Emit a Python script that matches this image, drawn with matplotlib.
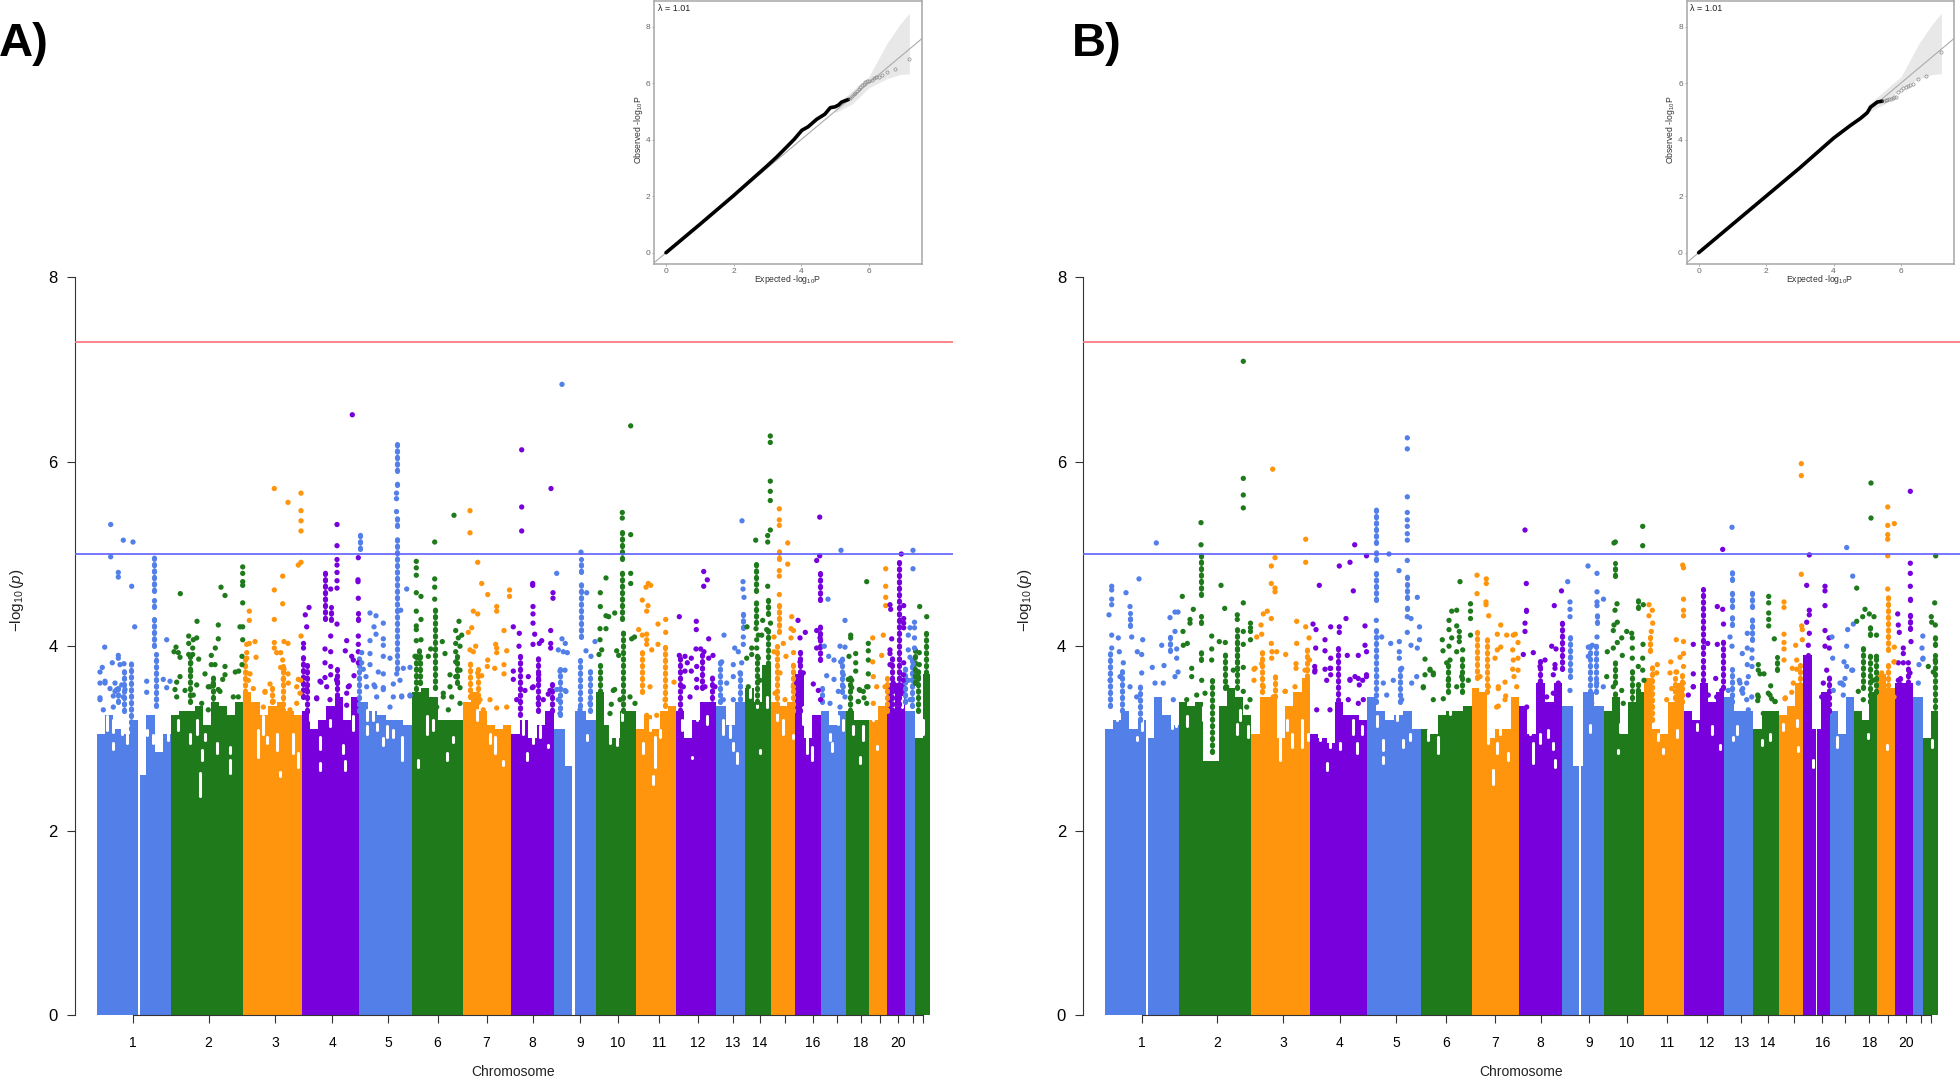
import numpy as np
import matplotlib
matplotlib.use('Agg')
import matplotlib.pyplot as plt

plt.rcParams['font.family'] = ['Liberation Sans', 'DejaVu Sans']
plt.rcParams['mathtext.fontset'] = 'custom'
plt.rcParams['mathtext.rm'] = 'Liberation Sans'
plt.rcParams['mathtext.it'] = 'Liberation Sans:italic'

chrom_colors = ['#527FE8', '#1F7A1C', '#FF940D', '#7700DC']
tick_labels = ['1', '2', '3', '4', '5', '6', '7', '8', '9', '10', '11', '12', '13', '14', '', '16', '', '18', '', '20', '', '']

# panel A: genome position along x (plot units), -log10(p) along y
a_edges = [97, 171, 243, 302, 359, 412, 463, 511, 554, 596, 636, 676, 716, 745, 771, 795, 821, 846, 869, 887, 905, 915, 930]
a_ticks = [132.7, 208.5, 275, 332, 388, 437.5, 486.6, 532.5, 580, 618, 658.8, 698, 733, 759.6, 785, 813, 836.7, 861, 880, 898, 912.6, 923]
a_gaps = [(138.2, 140.4), (571.5, 574.5)]

# height of the solid mass of points, left to right inside each chromosome
a_tops = [
    [3.05, 3.25, 3.1, 3.05, 3.2, 2.6, 3.25, 2.85, 3.05],
    [3.25, 3.3, 3.3, 3.35, 3.15, 3.4, 3.35, 3.25, 3.4],
    [3.5, 3.4, 3.25, 3.35, 3.4, 3.3, 3.25],
    [3.3, 3.1, 3.2, 3.35, 3.45, 3.2, 3.45],
    [3.4, 3.3, 3.25, 3.2, 3.2, 3.15],
    [3.5, 3.55, 3.45, 3.2, 3.2, 3.2],
    [3.4, 3.5, 3.3, 3.15, 3.1, 3.15],
    [3.05, 3.2, 3.0, 3.15, 3.3],
    [3.1, 2.7, 3.3, 3.2],
    [3.5, 3.15, 3.0, 3.3, 3.3],
    [3.1, 3.25, 3.1, 3.3, 3.35],
    [3.3, 3.0, 3.2, 3.4, 3.4],
    [3.35, 3.15, 3.4],
    [3.55, 3.4, 3.8],
    [3.4, 3.35, 3.4],
    [3.7, 3.0, 3.25],
    [3.3, 3.15, 3.3],
    [3.3, 3.2, 3.2],
    [3.2, 3.35],
    [3.6, 3.6],
    [3.3],
    [3.0, 3.7],
]

# white specks inside the mass: x, lower value, upper value
a_holes = [
    (106.7, 3.09, 3.24), (113.3, 3.07, 3.2), (121.7, 3.05, 3.2), (126.7, 2.95, 3.16), (113.3, 2.89, 2.95), (146.7, 3.04, 3.09), (153.3, 2.95, 3.04),
    (160, 2.87, 3.02), (168.3, 2.98, 3.05), (178.3, 3.09, 3.2), (190, 2.95, 3.05), (196.7, 3.05, 3.2), (205, 2.98, 3.05), (216.7, 2.84, 2.95), (230, 2.84, 2.91),
    (200, 2.37, 2.62), (230, 2.62, 2.77), (201.7, 2.77, 2.87), (258.3, 2.8, 3.09), (263.3, 3.05, 3.24), (276.7, 2.87, 3.05), (266.7, 2.95, 3.02), (293.3, 2.84, 3.05),
    (280, 2.59, 2.64), (298.3, 2.69, 2.84), (320, 2.89, 3.02), (343.3, 2.84, 2.93), (330, 3.13, 3.2), (320, 2.66, 2.73), (310, 3.2, 3.27), (345, 2.66, 2.75),
    (353.3, 3.09, 3.24), (366.7, 3.05, 3.13), (376.7, 3.09, 3.16), (386.7, 3.02, 3.13), (401.7, 2.77, 3.02), (383.3, 2.93, 3.0), (393.3, 3.02, 3.09), (366.7, 3.2, 3.31),
    (373.3, 3.2, 3.31), (418.3, 2.69, 2.77), (426.7, 3.05, 3.24), (433.3, 3.09, 3.2), (446.7, 2.77, 2.84), (453.3, 2.96, 3.02), (480, 3.34, 3.45), (490, 2.95, 3.05),
    (495, 2.84, 3.02), (503.3, 2.71, 2.75), (476.7, 3.2, 3.31), (523.3, 3.05, 3.2), (533.3, 2.95, 3.05), (548.3, 2.91, 2.93), (526.7, 2.77, 2.84), (540, 3.02, 3.13),
    (586.7, 2.98, 3.04), (610, 2.95, 3.2), (616.7, 2.93, 3.05), (606.7, 3.2, 3.34), (621.7, 3.2, 3.31), (655, 2.69, 3.02), (660, 3.02, 3.09), (650, 3.09, 3.2),
    (643.3, 2.84, 2.95), (653.3, 2.51, 2.59), (690, 3.05, 3.16), (681.7, 3.09, 3.2), (706.7, 3.16, 3.24), (691.7, 2.79, 2.8), (696.7, 3.2, 3.27), (723.3, 3.05, 3.2),
    (736.7, 2.73, 2.84), (730, 3.02, 3.13), (733.3, 2.87, 2.95), (756.7, 3.34, 3.45), (766.7, 3.34, 3.45), (760, 2.84, 2.87), (750, 3.45, 3.56), (783.3, 3.05, 3.2),
    (776.7, 3.2, 3.31), (793.3, 3.0, 3.04), (806.7, 2.84, 3.02), (811.7, 2.77, 2.91), (803.3, 3.16, 3.34), (831.7, 2.86, 2.95), (843.3, 3.09, 3.2), (838.3, 3.16, 3.24),
    (830, 2.98, 3.05), (863.3, 2.98, 3.13), (853.3, 3.05, 3.13), (860, 2.73, 2.8), (876.7, 2.89, 2.92), (873.3, 3.2, 3.27), (893.3, 3.34, 3.49), (901.7, 3.34, 3.45),
    (923.3, 3.05, 3.2),
]

# dense vertical runs of points: x, lower value, upper value
a_runs = [
    (153.5, 4.6, 4.97), (153.5, 4.42, 4.5), (153.5, 4.0, 4.3), (156, 3.35, 3.92), (131, 3.1, 3.85), (124, 3.3, 3.75),
    (118.3, 3.4, 3.6), (190, 3.4, 3.95), (213.3, 3.3, 3.7), (245, 3.5, 3.9), (271.7, 3.4, 3.6), (283.3, 3.3, 3.78),
    (303.3, 3.45, 3.9), (306.7, 3.3, 3.8), (325, 4.3, 4.84), (330.7, 4.28, 4.42), (336.7, 3.4, 3.65), (337, 3.6, 3.75),
    (360, 5.05, 5.23), (358.3, 4.28, 4.36), (359, 3.3, 3.88), (396.5, 5.9, 6.19), (396.5, 5.75, 5.8), (396.5, 5.3, 5.42),
    (396.5, 3.75, 5.2), (416.3, 3.4, 3.9), (419.3, 3.87, 4.0), (420, 3.6, 3.9), (435, 3.55, 4.4), (456.7, 3.6, 3.95),
    (470, 3.45, 3.85), (478.3, 3.4, 3.75), (520, 3.25, 3.95), (538.3, 3.3, 3.9), (551.7, 3.3, 3.6), (560, 3.25, 3.75),
    (581, 4.1, 4.72), (581, 4.8, 4.95), (580, 3.35, 3.85), (590, 3.3, 3.75), (600, 3.3, 3.8), (622.3, 4.95, 5.25),
    (622.3, 4.3, 4.8), (622.7, 3.3, 4.15), (642.3, 3.5, 3.95), (665, 3.35, 4.05), (680, 3.3, 3.9), (701.7, 3.55, 3.95),
    (711.7, 3.3, 3.7), (720, 3.4, 3.85), (740, 3.35, 3.75), (742.5, 4.2, 4.4), (756, 4.6, 4.9), (756, 4.25, 4.5),
    (756.7, 3.4, 3.95), (768, 4.35, 4.55), (768.3, 3.6, 4.2), (776.7, 3.3, 4.0), (779.3, 4.95, 5.05), (779.3, 4.15, 4.5),
    (793.3, 3.3, 3.85), (800, 3.3, 3.95), (820, 4.5, 4.8), (820, 3.85, 4.25), (821.7, 3.4, 3.55), (841.7, 3.5, 3.9),
    (850, 3.3, 3.7), (886.7, 3.3, 3.65), (891.7, 3.3, 3.9), (898.5, 3.3, 4.95), (905, 3.4, 3.8), (911.7, 3.35, 3.9),
    (915, 3.6, 4.0), (918.3, 3.3, 3.75), (926, 3.5, 4.15),
]

# single points above the mass
a_dots = [
    (110.7, 5.32), (110.7, 4.97), (123.3, 5.15), (133, 5.13), (118.3, 4.8), (118.3, 4.75), (131.7, 4.65), (134.7, 4.21), (104.7, 3.99),
    (118.3, 3.9), (118.3, 3.87), (100, 3.72), (102.3, 3.77), (112.3, 3.82), (124, 3.81), (120, 3.8), (166.7, 4.07), (163.3, 3.64), (170, 3.62),
    (146.7, 3.62), (146.7, 3.5), (166.7, 3.55), (100, 3.6), (105, 3.62), (115, 3.6), (116.7, 3.53), (125, 3.53), (100, 3.44), (113.3, 3.46),
    (180.3, 4.57), (197, 4.27), (221, 4.64), (225, 4.55), (218.3, 4.23), (218.3, 4.08), (242.7, 4.86), (242.7, 4.79), (242.7, 4.7), (242.7, 4.66),
    (242.7, 4.47), (240, 4.21), (242.7, 4.21), (242.7, 4.07), (176, 3.99), (174, 3.94), (178.3, 3.93), (180, 3.88), (188.7, 4.11), (188.7, 4.03),
    (193.3, 4.07), (196.7, 4.09), (192.7, 3.98), (188.7, 3.91), (192.7, 3.91), (198.7, 3.86), (190.7, 3.82), (190.7, 3.73), (196.7, 3.58), (215.3, 3.98),
    (211.3, 3.9), (211.3, 3.8), (215, 3.8), (225, 3.78), (205, 3.7), (225, 3.69), (235.3, 3.72), (238.7, 3.73), (242, 3.8), (242, 3.89), (180, 3.67),
    (176.7, 3.61), (175, 3.53), (213.3, 3.6), (208.3, 3.56), (222.7, 3.64), (218.3, 3.53),
    (274.3, 5.71), (288, 5.56), (301, 5.66), (301, 5.47), (301, 5.36), (301, 5.25), (301, 4.91), (298.3, 4.88), (282.7, 4.76), (274.3, 4.61), (282.7, 4.46),
    (274.3, 4.29), (249.3, 4.38), (249.3, 4.28), (255, 4.05), (249.3, 4.03), (246.7, 4.02), (246.7, 3.93), (246.7, 3.87), (256, 3.88), (274.3, 4.04),
    (274.3, 3.98), (276.7, 3.93), (280.7, 3.93), (284, 4.05), (288, 4.03), (282.7, 3.85), (280.7, 3.77), (284, 3.75), (288, 3.7), (283.3, 3.64), (301, 4.11),
    (298.3, 3.64), (300.7, 3.63), (270, 3.59), (265, 3.5), (288.3, 3.6), (296.7, 3.56), (246.7, 3.71), (250, 3.7),
    (352.3, 6.51), (337, 5.32), (337, 5.09), (358.3, 4.96), (337, 4.94), (337, 4.88), (337, 4.8), (337, 4.71), (337, 4.63), (330.7, 4.62), (358.3, 4.52),
    (309, 4.42), (305.3, 4.34), (306.7, 4.21), (337, 4.24), (330.7, 4.11), (346.7, 4.06), (345.3, 3.95), (325, 3.97), (330.7, 3.94), (351.7, 3.89), (353.3, 3.85),
    (358.3, 4.11), (358.3, 4.02), (358.3, 3.94), (358.3, 3.82), (325, 3.82), (330.7, 3.78), (321, 3.61), (325, 3.66), (330.7, 3.69), (336.7, 3.64), (349.3, 3.57),
    (354, 3.68), (316.7, 3.44), (346.7, 3.49), (358, 4.72), (358, 4.7), (303.5, 4.03), (303.5, 3.98),
    (406.7, 4.62), (370, 4.36), (376, 4.33), (374, 4.21), (383.3, 4.25), (376, 4.13), (383.3, 4.08), (370, 4.06), (383.3, 4.01), (400.7, 4.39), (383.3, 3.89),
    (361.7, 3.93), (370, 3.92), (390, 3.87), (361.7, 3.82), (370, 3.8), (403.3, 3.76), (410, 3.77), (378.3, 3.72), (383.3, 3.7), (363.3, 3.75), (366, 3.67),
    (396.7, 3.7), (400, 3.63), (393.3, 3.59), (374, 3.58), (383.3, 3.55), (401.7, 3.46), (410, 3.46), (396.5, 5.66), (396.5, 5.6), (396.5, 5.46),
    (454, 5.42), (434.7, 5.13), (416.3, 4.92), (416.3, 4.85), (416.3, 4.77), (434.7, 4.73), (434.7, 4.64), (416.3, 4.58), (421, 4.54), (434.7, 4.51), (416.3, 4.38),
    (421, 4.29), (459, 4.27), (416.3, 4.22), (416.3, 4.18), (455.7, 4.17), (461.7, 4.12), (458.3, 4.09), (416.3, 4.06), (421, 4.07), (442.3, 4.05), (455.7, 4.03),
    (455.7, 3.94), (460, 4.0), (445, 3.92), (415, 3.89), (430.7, 3.97), (428.3, 3.89), (455.7, 3.83), (460, 3.74), (450, 3.69), (455.7, 3.67), (450, 3.56), (460, 3.55), (443.3, 3.49),
    (470, 5.47), (470, 5.23), (477.7, 4.91), (481.7, 4.68), (487.7, 4.56), (496.7, 4.43), (496.7, 4.38), (473.3, 4.38), (477.7, 4.35), (468.3, 4.15), (471.7, 4.2),
    (496.7, 3.98), (496.7, 3.93), (475.7, 4.0), (470, 3.96), (473.3, 3.94), (487.7, 3.85), (477.7, 3.71), (481.7, 3.68), (509.5, 4.61), (509.5, 4.54), (504, 4.17),
    (495.7, 4.02), (506.7, 3.95), (494.7, 3.76), (504, 3.8), (504, 3.7), (487.3, 3.78),
    (521.7, 6.13), (551, 5.71), (521.7, 5.51), (521.7, 5.25), (532.7, 4.68), (532.7, 4.66), (553, 4.58), (553, 4.52), (533, 4.43), (533, 4.35), (533, 4.25), (513.3, 4.21),
    (519.3, 4.14), (550.7, 4.17), (534.7, 4.13), (541.7, 4.06), (539.3, 4.03), (533, 4.02), (519, 4.0), (550.7, 4.03), (550.7, 3.98), (528.3, 3.67), (513.3, 3.73),
    (513.3, 3.64), (532.3, 3.55), (538.7, 3.69), (538.7, 3.63), (548.3, 3.48),
    (562, 6.84), (556.7, 4.79), (562, 4.08), (565.3, 4.03), (558.3, 3.96), (563.3, 3.94), (567.3, 3.93), (560, 3.73), (565, 3.74), (556.7, 3.53), (566, 3.51),
    (586.7, 4.58), (586, 3.95), (591, 3.89), (595, 4.05), (581, 5.02),
    (630.7, 6.39), (622.3, 5.45), (622.3, 5.39), (630.7, 5.21), (606, 4.74), (630.7, 4.79), (630.7, 4.68), (600.3, 4.58), (600.3, 4.43), (606, 4.33), (608.7, 4.32), (614.7, 4.36),
    (600, 4.19), (606, 4.19), (600, 4.07), (634.5, 4.1), (631.7, 4.08), (616.7, 3.95), (618.7, 3.9), (601.7, 3.96), (599, 3.91), (614.7, 3.53), (611.3, 3.37),
    (648.3, 4.68), (646, 4.64), (650.7, 4.66), (642.3, 4.5), (648, 4.44), (646.7, 4.38), (665.7, 4.29), (658, 4.24), (665.7, 4.15), (638.7, 4.18), (642.3, 4.12), (646.7, 4.13),
    (646.7, 4.07), (646.7, 4.02), (658, 4.02), (651.7, 3.96), (674, 3.61),
    (679.3, 4.32), (696.3, 4.27), (696.3, 4.18), (708.7, 4.08), (679.3, 3.9), (685, 3.89), (691.3, 3.87), (687.3, 3.82), (696, 3.97), (700.7, 3.97), (704, 3.94), (713, 3.9),
    (708.7, 3.87), (696.7, 3.78), (691.3, 3.73), (685, 3.73), (696.7, 3.64), (696.7, 3.55), (703.7, 4.81), (707.3, 4.72), (703.7, 4.65),
    (724, 4.12), (721.7, 3.83), (734.7, 3.98), (738.3, 3.94), (743, 4.7), (743, 4.62), (744, 4.53), (742, 5.36), (733.3, 3.8), (741.7, 3.82), (743.3, 4.1), (743.3, 4.02),
    (747, 4.21), (755.7, 5.15), (770.3, 6.28), (770.3, 6.21), (770.3, 5.79), (770.3, 5.68), (770.3, 5.58), (770.3, 5.26), (767.7, 5.2), (767.7, 5.13), (767.7, 4.65),
    (762.7, 4.28), (770.5, 4.25), (756, 4.19), (766.7, 4.18), (758.3, 4.12), (761.7, 4.12), (756.7, 4.07), (751.7, 3.98), (756.7, 3.98), (746.7, 3.87), (751.7, 3.91), (758.3, 3.87),
    (779.3, 5.49), (779.3, 5.37), (779.3, 5.31), (787.7, 5.12), (787.7, 4.89), (779.3, 4.82), (779.3, 4.76), (779.3, 4.56), (791.7, 4.32), (791, 4.19), (793.5, 4.17), (783.3, 4.03),
    (774, 4.1), (774, 3.94), (786, 3.89), (793.5, 3.93), (791, 4.09),
    (819.7, 5.4), (819.7, 4.98), (816.7, 4.93), (798, 4.28), (805.3, 4.15), (800, 4.09), (816.7, 4.17), (820, 4.09), (816.7, 3.98), (800, 3.83), (813.3, 3.59),
    (841, 5.04), (828, 4.51), (845, 4.28), (824.3, 4.0), (840, 4.0), (845, 3.99), (828.7, 3.89), (834, 3.85), (840.7, 3.83), (826.7, 3.68), (834, 3.64), (843.3, 3.69), (838.3, 3.51),
    (866.7, 4.7), (850.7, 4.12), (850.7, 4.09), (855.7, 3.92), (849, 3.89), (855.7, 3.82), (855.7, 3.73), (848.3, 3.64), (851.7, 3.63), (851.7, 3.55), (859.3, 3.53), (863.3, 3.51),
    (866.7, 3.56), (858.3, 3.4), (864, 3.44), (866.7, 3.38), (868.3, 4.03), (868.3, 3.95), (868.3, 3.85), (868.3, 3.7),
    (885.7, 4.84), (885.7, 4.65), (885.7, 4.53), (885.7, 4.44), (872.7, 4.09), (883.3, 4.12), (881.7, 3.9), (872.7, 3.83), (873.3, 3.67),
    (901.3, 5.0), (890, 4.45), (890.7, 4.4), (903.7, 4.44), (903.7, 4.3), (903.7, 4.25), (891.7, 4.08), (903.7, 4.2), (890, 3.96), (890, 3.92), (903.7, 3.82), (903.3, 3.69), (890, 3.8),
    (913, 5.04), (913, 4.84), (914.5, 4.26), (910, 4.2), (914.5, 4.2), (908.3, 4.12), (914.5, 4.09), (914.5, 3.98), (908.3, 3.96), (910, 3.88),
    (919.7, 4.43), (926.7, 4.32), (919.3, 3.93), (919.3, 3.8),
    # fringe just above the mass
    (100, 3.42), (105, 3.6), (110, 3.54), (115, 3.51), (121.7, 3.58), (123.3, 3.45), (113.3, 3.34), (103.3, 3.31), (176.7, 3.45), (185, 3.52), (193.3, 3.47),
    (210, 3.56), (220, 3.51), (233.3, 3.45), (238.3, 3.45), (201.7, 3.38), (208.3, 3.31), (248.3, 3.63), (253.3, 3.54), (265, 3.51), (263.3, 3.34), (273.3, 3.4),
    (290, 3.31), (296.7, 3.38), (300, 3.49), (306.7, 3.53), (316.7, 3.43), (326.7, 3.56), (336.7, 3.63), (348.3, 3.56), (346.7, 3.36), (330, 3.42), (320, 3.62),
    (366.7, 3.56), (375, 3.56), (383.3, 3.53), (393.3, 3.45), (401.7, 3.45), (410, 3.47), (376.7, 3.45), (390, 3.34), (443.3, 3.45), (451.7, 3.45), (460, 3.38),
    (436.7, 3.34), (448.3, 3.31), (480, 3.42), (490, 3.42), (496.7, 3.33), (506.7, 3.34), (483.3, 3.31), (516.7, 3.42), (525, 3.52), (533.3, 3.56), (543.3, 3.42),
    (550, 3.52), (538.3, 3.38), (558.3, 3.42), (565, 3.52), (560, 3.27), (580, 3.31), (590, 3.38), (613.3, 3.52), (620, 3.42), (630, 3.45), (635, 3.38), (610, 3.27),
    (646.7, 3.25), (656.7, 3.25), (665, 3.42), (650, 3.56), (683.3, 3.56), (690, 3.45), (705, 3.56), (715, 3.56), (726.7, 3.6), (733.3, 3.42), (723.3, 3.42), (740, 3.71),
    (733.3, 3.67), (748.3, 3.56), (760, 3.63), (766.7, 3.56), (775, 3.49), (785, 3.42), (793.3, 3.56), (780, 3.71), (803.3, 3.71), (796.7, 3.6), (818.3, 3.52),
    (820.5, 3.42), (830, 3.38), (840, 3.34), (843.3, 3.56), (845, 3.45), (860, 3.52), (868, 3.56), (858.3, 3.4), (876.7, 3.56), (873.3, 3.38), (885, 3.56),
    (893.3, 3.6), (903.3, 3.63), (910, 3.42), (913.3, 3.81), (908.3, 3.63), (918.3, 3.67),
]

# panel B
b_edges = [1104.8, 1178.8, 1251.2, 1310.3, 1367.1, 1420.5, 1471.6, 1518.7, 1562.3, 1604.2, 1644.4, 1684, 1724.2, 1752.9, 1778.7, 1802.8, 1829.8, 1853.9, 1876.9, 1894.7, 1913, 1923.4, 1938.3]
b_ticks = [1141.5, 1216.7, 1283.3, 1340, 1396.4, 1445.8, 1495, 1540.5, 1588.7, 1626.6, 1667.3, 1707, 1741.4, 1767.8, 1793.6, 1822.3, 1844.7, 1869.4, 1888.4, 1906.2, 1921, 1930.8]
b_gaps = [(1146, 1148), (1578.5, 1581), (1815.7, 1816.5)]

b_tops = [
    [3.1, 3.2, 3.3, 3.1, 3.2, 3.0, 3.45, 3.25, 3.15],
    [3.4, 3.35, 3.4, 2.75, 2.75, 3.35, 3.55, 3.45, 3.25],
    [3.05, 3.45, 3.45, 3.0, 3.35, 3.5, 3.65],
    [3.05, 3.0, 2.95, 3.4, 3.25, 3.25, 3.2],
    [3.45, 3.3, 3.2, 3.25, 3.3, 3.1],
    [3.1, 3.05, 3.25, 3.3, 3.3, 3.35],
    [3.55, 3.5, 3.0, 3.1, 3.1, 3.45],
    [3.35, 3.05, 3.6, 3.4, 3.6],
    [3.35, 2.7, 3.5, 3.35],
    [3.3, 3.45, 3.05, 3.4, 3.5],
    [3.65, 3.1, 3.05, 3.4, 3.6],
    [3.3, 3.2, 3.6, 3.4, 3.5],
    [3.45, 3.3, 3.3],
    [3.1, 3.3, 3.3],
    [3.25, 3.35, 3.6],
    [3.9, 3.1, 3.5],
    [3.3, 3.05, 3.45],
    [3.3, 3.2, 3.5],
    [3.7, 3.55],
    [3.6, 3.6],
    [3.45],
    [3.0, 3.3],
]

b_holes = [
    (1116.7, 3.2, 3.31), (1133.3, 3.13, 3.24), (1141.7, 3.09, 3.2), (1136.7, 2.98, 3.02), (1171.7, 3.11, 3.16), (1168.3, 3.34, 3.42), (1176, 3.13, 3.24), (1186.7, 3.13, 3.24),
    (1203.3, 3.2, 3.34), (1216.7, 3.24, 3.34), (1236.7, 3.05, 3.16), (1248.3, 3.02, 3.13), (1240, 3.2, 3.31), (1280, 2.77, 3.13), (1291.7, 2.91, 3.05), (1301.7, 2.91, 3.2),
    (1286.7, 3.09, 3.2), (1308.3, 2.98, 3.05), (1330, 2.91, 3.02), (1356.7, 2.84, 2.95), (1353.3, 3.05, 3.2), (1340, 2.89, 2.95), (1326.7, 2.66, 2.73), (1320, 2.98, 3.09),
    (1361.7, 3.05, 3.13), (1383.3, 2.87, 2.98), (1396.7, 3.2, 3.34), (1410, 2.98, 3.05), (1376.7, 3.13, 3.24), (1403.3, 2.91, 2.98), (1383.3, 2.73, 2.8), (1438.3, 2.84, 3.02),
    (1428.3, 2.98, 3.09), (1433.3, 3.16, 3.27), (1450, 3.27, 3.42), (1488.3, 2.95, 3.02), (1496.7, 2.84, 2.95), (1493.3, 2.51, 2.66), (1508.3, 2.77, 2.84), (1500, 3.05, 3.16),
    (1533.3, 2.73, 2.95), (1553.3, 2.89, 2.95), (1540, 2.95, 3.05), (1530, 3.05, 3.13), (1548.3, 3.02, 3.09), (1555, 2.69, 2.77), (1590, 3.07, 3.15), (1620, 3.07, 3.16),
    (1618.3, 2.84, 2.87), (1663.3, 2.84, 2.89), (1658.3, 2.98, 3.05), (1676.7, 3.02, 3.09), (1720, 2.89, 2.93), (1711.7, 3.05, 3.13), (1696.7, 3.09, 3.16), (1736.7, 3.05, 3.13),
    (1733.3, 2.98, 3.02), (1761.7, 2.93, 2.98), (1770, 2.98, 3.05), (1798.3, 2.86, 2.91), (1783.3, 3.09, 3.16), (1796.7, 3.13, 3.2), (1813.3, 2.69, 2.77), (1840, 3.27, 3.31),
    (1836.7, 2.91, 3.02), (1868.3, 3.0, 3.05), (1886.7, 2.89, 2.93), (1931.7, 2.91, 2.98),
]

b_runs = [
    (1201, 4.55, 4.99), (1201, 4.25, 4.33), (1201, 3.85, 3.98), (1211.7, 2.85, 3.65), (1237.3, 3.75, 4.2), (1376.3, 5.12, 5.51),
    (1376.3, 4.93, 5.05), (1376.3, 4.5, 4.83), (1376.3, 3.4, 4.18), (1407.3, 4.52, 4.68), (1407.3, 4.74, 4.79), (1407.3, 4.4, 4.45),
    (1338.3, 3.2, 4.04), (1110, 3.35, 3.95), (1121.7, 3.3, 3.75), (1140, 3.2, 3.6), (1130, 4.22, 4.36), (1170, 3.95, 4.12),
    (1225, 3.55, 3.95), (1236.7, 3.55, 4.1), (1261.7, 3.5, 3.95), (1306.7, 3.6, 4.0), (1275, 3.45, 3.7), (1400, 3.4, 3.8),
    (1448.3, 3.5, 3.85), (1461.7, 3.5, 3.9), (1476.7, 3.65, 4.15), (1486.5, 3.5, 4.12), (1540, 3.55, 3.85), (1526, 4.38, 4.45),
    (1562, 3.75, 4.28), (1570, 3.67, 4.14), (1590, 3.5, 4.0), (1596, 3.5, 4.05), (1597, 4.25, 4.34), (1615, 4.76, 4.9),
    (1615, 3.27, 3.5), (1615, 3.6, 3.87), (1631.7, 3.3, 3.75), (1638.3, 3.3, 3.6), (1637.7, 4.41, 4.5), (1650, 3.95, 4.1),
    (1651.7, 3.2, 3.8), (1675, 3.3, 3.65), (1682, 3.4, 3.7), (1703, 3.92, 4.62), (1703.3, 3.56, 3.85), (1723, 3.55, 4.1),
    (1732, 4.72, 4.85), (1732, 4.43, 4.6), (1732, 4.23, 4.32), (1752, 4.43, 4.63), (1752, 4.07, 4.34), (1732, 3.4, 3.75),
    (1777, 3.74, 3.88), (1800, 3.3, 3.8), (1805, 3.5, 3.75), (1808.3, 3.2, 3.9), (1829, 3.3, 3.7), (1870, 4.12, 4.23),
    (1870, 3.4, 3.95), (1862.5, 3.55, 3.98), (1876, 3.5, 3.9), (1887.7, 3.96, 4.54), (1887.7, 3.5, 3.85), (1910.3, 4.5, 4.57),
    (1910.3, 4.19, 4.39), (1908, 3.4, 3.8), (1900, 3.3, 3.65), (1935.3, 4.01, 4.1), (1935, 3.2, 3.9),
]

b_dots = [
    (1156.3, 5.12), (1139, 4.73), (1111.7, 4.65), (1111.7, 4.61), (1111.7, 4.51), (1111.7, 4.45), (1126, 4.58), (1109, 4.34), (1130, 4.43), (1170, 4.31), (1175, 4.37),
    (1178, 4.37), (1175, 4.16), (1161.7, 4.01), (1176.7, 3.97), (1176.7, 3.87), (1142.7, 4.07), (1131.7, 4.1), (1111.7, 4.12), (1118.3, 4.09), (1111.7, 3.98), (1119.3, 3.94),
    (1137.3, 3.94), (1141.7, 3.91), (1123.3, 3.82), (1152.3, 3.77), (1164, 3.79), (1178, 3.72),
    (1243.3, 7.09), (1243.3, 5.82), (1243.3, 5.64), (1243.3, 5.5), (1201, 5.34), (1201, 5.1), (1182.3, 4.54), (1221, 4.66), (1193.3, 4.4), (1224.7, 4.41), (1243.3, 4.47),
    (1190, 4.29), (1190, 4.25), (1237.3, 4.34), (1237.3, 4.29), (1250.5, 4.25), (1250.5, 4.2), (1250.5, 4.16), (1183, 4.16), (1211.7, 4.11), (1243.3, 4.16), (1243.3, 4.02),
    (1250.5, 4.07), (1183.3, 4.01), (1187.3, 4.03), (1219.3, 4.05), (1225.3, 4.04), (1211.7, 3.97), (1211.7, 3.85), (1191.7, 3.76), (1243.3, 3.77),
    (1272.7, 5.92), (1305.7, 5.16), (1305.7, 4.91), (1275, 4.96), (1271.3, 4.87), (1271.3, 4.68), (1275, 4.63), (1275, 4.59), (1261, 4.23), (1263.3, 4.35), (1267.3, 4.38),
    (1271.3, 4.3), (1256.7, 4.1), (1261.7, 4.13), (1271.3, 4.03), (1272, 3.94), (1276.7, 3.94), (1271.7, 3.87), (1285.7, 3.91), (1296.7, 4.27), (1305.7, 4.21), (1309, 4.09),
    (1296.7, 4.03), (1296, 3.81), (1296, 3.76), (1254, 3.75), (1254, 3.63), (1285.3, 3.51),
    (1354.7, 5.1), (1350, 4.91), (1339.3, 4.87), (1319.3, 4.66), (1353.3, 4.6), (1313, 4.24), (1316, 4.18), (1330.7, 4.21), (1339.3, 4.21), (1339.3, 4.15), (1325, 4.07),
    (1315.7, 3.98), (1325, 3.95), (1347.3, 3.9), (1330.7, 3.87), (1358.3, 3.9), (1365, 4.22), (1346, 4.3), (1365, 4.01), (1366.5, 3.94), (1314.7, 3.78), (1314.7, 3.72),
    (1325, 3.75), (1330.7, 3.76), (1330.7, 3.69), (1350, 3.64), (1355, 3.67), (1359.3, 3.58), (1362.7, 3.63), (1366.5, 3.67), (1366.5, 4.98),
    (1389, 5.0), (1399, 4.82), (1417.3, 4.53), (1407.3, 6.26), (1407.3, 6.14), (1407.3, 5.62), (1407.3, 5.45), (1407.3, 5.37), (1407.3, 5.3), (1407.3, 5.22), (1407.3, 5.15),
    (1407.3, 4.93), (1407.3, 4.32), (1407.3, 4.15), (1376.3, 4.28), (1419.5, 4.21), (1411, 4.01), (1419.5, 4.07), (1390.7, 4.03), (1399.3, 4.05), (1399.3, 3.94), (1399.3, 3.87),
    (1381.7, 4.1), (1411, 4.3), (1417.3, 3.98),
    (1460, 4.7), (1451.7, 4.38), (1456.7, 4.39), (1449, 4.28), (1456.7, 4.22), (1470.5, 4.46), (1470.5, 4.38), (1470.5, 4.3), (1470.5, 4.12), (1449, 4.18), (1459.3, 4.16),
    (1459.3, 4.1), (1459.3, 4.05), (1442.3, 4.07), (1449, 4.0), (1443, 3.95), (1451.7, 4.09), (1456.7, 3.94), (1462.7, 3.96), (1425, 3.86), (1430, 3.75), (1425, 3.69),
    (1433.3, 3.69), (1446.7, 3.82), (1450, 3.85), (1423.3, 3.55),
    (1477, 4.77), (1486.3, 4.73), (1486.3, 4.68), (1477, 4.57), (1486, 4.48), (1486, 4.45), (1488.7, 4.33), (1500.7, 4.23), (1497.3, 4.13), (1506.7, 4.12), (1513.3, 4.12),
    (1515.3, 4.13), (1518, 4.04), (1512.7, 3.96), (1497.3, 3.96), (1500.7, 3.99), (1495, 3.87), (1513.3, 3.85), (1518, 3.87), (1512.7, 3.75), (1518, 3.74), (1514, 3.67),
    (1505, 3.61), (1498.3, 3.54), (1505.7, 3.46), (1498.3, 3.35),
    (1525, 5.26), (1526.3, 4.68), (1525, 4.25), (1525, 4.16), (1523.3, 3.91), (1533.3, 3.93), (1554.3, 4.44), (1561.5, 4.6), (1556, 3.97), (1551.7, 4.0), (1540, 3.78), (1545, 3.85),
    (1555, 3.8), (1555, 3.76), (1553.3, 3.69),
    (1567.7, 4.7), (1570, 4.48), (1570, 4.4), (1570, 4.32), (1588, 4.87), (1597, 4.79), (1597, 4.59), (1603.5, 4.51), (1597, 4.48), (1597, 4.44), (1597, 4.1), (1592.3, 4.01), (1588.3, 3.99),
    (1614, 5.12), (1615.3, 5.13), (1642.7, 5.3), (1642.7, 5.09), (1617, 4.46), (1615, 4.39), (1617.3, 4.26), (1614, 4.23), (1613.3, 4.17), (1626.7, 4.16), (1631.7, 4.14), (1632.3, 4.09),
    (1621.7, 4.09), (1617.3, 4.04), (1613.3, 3.98), (1607.3, 3.94), (1643, 4.02), (1643.3, 4.45), (1622.3, 3.9), (1632.3, 3.98), (1632.3, 3.87), (1642.7, 3.87), (1638.3, 3.78), (1642.7, 3.74),
    (1649, 4.45), (1652.3, 4.39), (1649, 4.33), (1652.7, 4.25), (1651.3, 4.16), (1682.7, 4.88), (1683.5, 4.85), (1683.5, 4.51), (1683.5, 4.39), (1683.5, 4.33), (1676.3, 4.07), (1683.5, 4.05),
    (1683.5, 3.92), (1680, 3.88), (1670.7, 3.83), (1657.3, 3.8), (1670, 3.71), (1676, 3.72), (1683.5, 3.78),
    (1722.7, 5.05), (1717.3, 4.43), (1722.7, 4.4), (1723.5, 4.24), (1693.3, 4.02), (1707.7, 4.03), (1717.3, 4.02), (1693.3, 3.7), (1693.3, 3.56), (1715.7, 3.65),
    (1732, 5.29), (1747.3, 4.14), (1742.3, 3.92), (1747.3, 3.98), (1752, 3.96), (1752, 3.87), (1747.3, 3.8), (1752, 3.78), (1730, 4.1), (1732, 4.0), (1739.3, 3.63), (1748.3, 3.67), (1746.7, 3.6),
    (1742.7, 3.54), (1742.7, 3.49),
    (1768.7, 4.54), (1768.7, 4.47), (1768.7, 4.36), (1768.7, 4.29), (1768.7, 4.22), (1774.3, 4.08), (1758.3, 3.8), (1758.3, 3.74), (1760, 3.7), (1764, 3.7), (1770.7, 3.57), (1757.7, 3.47), (1757.7, 3.41),
    (1768.3, 3.49), (1771.7, 3.43), (1775, 3.4),
    (1801.3, 5.98), (1801.3, 5.85), (1801.3, 4.78), (1784, 4.48), (1784, 4.42), (1784, 4.13), (1784, 4.04), (1784, 3.97), (1784, 3.85), (1795.7, 4.01), (1801.7, 4.22), (1802.3, 4.18), (1802.3, 4.07),
    (1792.3, 3.76), (1796.7, 3.75), (1785.3, 3.44),
    (1809.3, 4.99), (1806.7, 4.66), (1809.3, 4.39), (1809.3, 4.34), (1806.7, 4.26), (1809.3, 4.14), (1808.3, 4.01), (1825, 4.65), (1825, 4.6), (1825, 4.44), (1825, 4.17), (1825, 4.0), (1829.3, 3.98), (1829, 4.09),
    (1846.7, 5.07), (1852.7, 4.76), (1853.3, 4.24), (1847.7, 4.18), (1832, 4.1), (1846.7, 4.0), (1832.7, 3.87), (1844, 3.83), (1846.7, 3.78), (1852.7, 3.74), (1845, 3.65), (1840, 3.6), (1843.3, 3.58),
    (1871, 5.77), (1871, 5.39), (1856.7, 4.63), (1865, 4.4), (1869.3, 4.35), (1874, 4.32), (1862.7, 4.32), (1856.7, 4.27), (1876.5, 4.12), (1876.5, 3.89),
    (1887.7, 5.51), (1887.7, 5.31), (1894.3, 5.33), (1887.7, 5.21), (1887.7, 5.16), (1887.7, 4.98), (1887.7, 4.62), (1894.3, 3.99), (1894.3, 3.83),
    (1910.3, 5.68), (1910.3, 4.9), (1910.3, 4.79), (1910.3, 4.65), (1911, 4.05), (1897.7, 4.35), (1898.3, 4.23), (1899.3, 4.15), (1903.3, 3.98), (1903.3, 3.92), (1898.3, 3.82), (1903.3, 3.82), (1908.3, 3.82),
    (1922.8, 4.11), (1922, 3.98), (1922.8, 3.86), (1919, 3.8),
    (1935.7, 4.98), (1934.7, 4.47), (1931.3, 4.32), (1931.7, 4.26), (1935.3, 4.23), (1935.3, 3.85), (1928.3, 3.78), (1933.3, 3.72),
    # fringe just above the mass
    (1110, 3.63), (1120, 3.67), (1130, 3.56), (1136.7, 3.45), (1141.7, 3.71), (1155, 3.6), (1163.3, 3.6), (1175, 3.67), (1173.3, 3.42), (1186.7, 3.42), (1196.7, 3.47),
    (1205, 3.49), (1191.7, 3.67), (1201.7, 3.63), (1226.7, 3.56), (1233.3, 3.74), (1243.3, 3.51), (1246.7, 3.34), (1250, 3.42), (1263.3, 3.56), (1261.7, 3.81), (1255, 3.76),
    (1273.3, 3.45), (1285, 3.51), (1295, 3.56), (1305, 3.74), (1309.5, 3.85), (1315, 3.74), (1326.7, 3.63), (1330, 3.76), (1350, 3.63), (1358.3, 3.65), (1366.5, 3.69),
    (1348.3, 3.42), (1358.3, 3.38), (1363.3, 3.42), (1316.7, 3.31), (1330, 3.31), (1376.7, 3.67), (1383.3, 3.6), (1393.3, 3.63), (1401.7, 3.76), (1411.7, 3.6), (1416.7, 3.67),
    (1386.7, 3.47), (1401.7, 3.42), (1423.3, 3.56), (1430, 3.74), (1433.3, 3.71), (1433.3, 3.42), (1448.3, 3.63), (1456.7, 3.56), (1461.7, 3.67), (1443.3, 3.43), (1468.3, 3.63),
    (1480, 3.67), (1488.3, 3.56), (1498.3, 3.56), (1505, 3.42), (1516.7, 3.56), (1496.7, 3.34), (1526.7, 3.34), (1540, 3.6), (1553.3, 3.49), (1558.3, 3.6), (1546.7, 3.45),
    (1570, 3.52), (1588.3, 3.89), (1596.7, 3.6), (1603.3, 3.56), (1591.7, 3.38), (1606.7, 3.67), (1613.3, 3.56), (1621.7, 3.52), (1623.3, 3.38), (1638.3, 3.52), (1644, 3.63),
    (1648.3, 3.56), (1656.7, 3.71), (1671.7, 3.54), (1683.3, 3.6), (1676.7, 3.72), (1666.7, 3.42), (1688.3, 3.47), (1693.3, 3.56), (1716.7, 3.45), (1721.7, 3.52), (1708.3, 3.47),
    (1728.3, 3.52), (1740, 3.6), (1741.7, 3.52), (1746.7, 3.42), (1751.7, 3.45), (1748.3, 3.31), (1758.3, 3.45), (1770, 3.47), (1775, 3.4), (1763.3, 3.27), (1785, 3.43),
    (1793.3, 3.6), (1796.7, 3.85), (1791.7, 3.5), (1823.3, 3.6), (1826.7, 3.74), (1821.7, 3.45), (1833.3, 3.52), (1841.7, 3.6), (1843.3, 3.47), (1851.7, 3.74), (1858.3, 3.51),
    (1863.3, 3.42), (1873.3, 3.63), (1881.7, 3.71), (1894, 3.83), (1894, 3.45), (1898.3, 3.63), (1910, 3.71), (1918.3, 3.6), (1923, 3.87),
]

# QQ insets
a_qq_line_x = [0, 1, 2, 3, 3.28, 3.57, 3.8, 4.02, 4.2, 4.46, 4.7, 4.86, 5.0, 5.1, 5.2, 5.4]
a_qq_line_y = [0, 1.0, 2.02, 3.08, 3.39, 3.74, 4.02, 4.33, 4.45, 4.72, 4.9, 5.13, 5.16, 5.22, 5.33, 5.42]
a_qq_open_x = [5.45, 5.5, 5.55, 5.6, 5.65, 5.7, 5.75, 5.8, 5.85, 5.9, 5.95, 6.0, 6.08, 6.15, 6.22, 6.3, 6.4, 6.55, 6.77, 7.2]
a_qq_open_y = [5.47, 5.55, 5.6, 5.65, 5.72, 5.8, 5.86, 5.92, 5.97, 6.03, 6.06, 6.08, 6.12, 6.17, 6.2, 6.22, 6.3, 6.38, 6.5, 6.84]
b_qq_line_x = [0, 1, 2, 3, 4, 4.5, 4.8, 5.0, 5.1, 5.3, 5.45]
b_qq_line_y = [0, 1.0, 2.0, 3.0, 4.05, 4.5, 4.75, 4.95, 5.15, 5.33, 5.36]
b_qq_open_x = [5.5, 5.55, 5.6, 5.65, 5.7, 5.75, 5.8, 5.85, 5.92, 6.0, 6.07, 6.14, 6.2, 6.28, 6.37, 6.51, 6.73, 7.2]
b_qq_open_y = [5.37, 5.39, 5.41, 5.43, 5.45, 5.47, 5.49, 5.5, 5.68, 5.75, 5.83, 5.86, 5.88, 5.93, 5.98, 6.13, 6.25, 7.09]
band_x = [5.0, 5.5, 6.0, 6.53, 6.93, 7.2]
band_hi = [5.2, 5.72, 6.22, 7.39, 8.09, 8.47]
band_lo = [4.95, 5.25, 5.83, 6.15, 6.3, 6.33]
lambda_text = 'λ = 1.01'

W, H = 1960, 1078
fig = plt.figure(figsize=(W / 100, H / 100), dpi=100)


def px_axes(left, top, right, bottom):
    return fig.add_axes([left / W, 1 - bottom / H, (right - left) / W, (bottom - top) / H])


def color_for(x, edges):
    i = np.clip(np.searchsorted(edges, x, side='right') - 1, 0, 21)
    return chrom_colors[i % 4]


def manhattan(left, right, edges, ticks, tops, gaps, holes, runs, dots):
    ax = px_axes(left, 277.4, right, 1015)
    ax.set_xlim(left, right)
    ax.set_ylim(0, 8)
    ax.patch.set_alpha(0)
    # solid mass
    for i in range(22):
        x = np.linspace(edges[i], edges[i + 1], len(tops[i]) + 1)
        ax.bar(x[:-1], tops[i], width=np.diff(x), align='edge', color=chrom_colors[i % 4], lw=0, zorder=1)
    for g in gaps:
        ax.bar(g[0], 8, width=g[1] - g[0], align='edge', color='white', lw=0, zorder=2)
    for h in holes:
        ax.vlines(h[0], h[1], h[2], colors='white', lw=2.2, capstyle='round', zorder=2)
    # runs are drawn as beads so they read as stacked points
    for r in runs:
        ax.vlines(r[0], r[1], r[2], colors=color_for(r[0], edges), lw=3.7, linestyles=(0, (0.25, 1.0)), capstyle='round', zorder=3)
    d = np.array(dots)
    ax.scatter(d[:, 0], d[:, 1], s=14.5, c=[color_for(v, edges) for v in d[:, 0]], lw=0, zorder=4)
    ax.axhline(7.3, color='#FF7078', lw=1.2, zorder=5)
    ax.axhline(5, color='#6060FF', lw=1.2, zorder=5)
    for s in ['top', 'right']:
        ax.spines[s].set_visible(False)
    ax.spines['left'].set_bounds(0, 8)
    ax.spines['bottom'].set_bounds(ticks[0], ticks[-1])
    ax.spines['left'].set_color('#333333')
    ax.spines['bottom'].set_color('#333333')
    ax.set_yticks([0, 2, 4, 6, 8])
    ax.set_xticks(ticks)
    ax.set_xticklabels(tick_labels)
    ax.tick_params(axis='y', length=6, color='#333333', labelsize=12, pad=6)
    ax.tick_params(axis='x', length=5.8, color='#333333', labelsize=10, pad=9)
    return ax


def qq(left, right, line_x, line_y, open_x, open_y):
    ax = px_axes(left, 0.5, right, 264.3)
    ax.set_xlim(-0.346, 7.565)
    ax.set_ylim(-0.41, 8.92)
    ax.fill_between(band_x, band_lo, band_hi, color='#E8E8E8', lw=0)
    ax.plot([-0.5, 8], [-0.5, 8], color='#ABABAB', lw=0.8)
    ax.plot(line_x, line_y, color='black', lw=2.6, solid_capstyle='round')
    ax.plot(open_x, open_y, ls='none', marker='o', ms=2.3, mfc='none', mec='#8C8C8C', mew=0.5)
    for s in ax.spines.values():
        s.set_color('#A6A6A6')
        s.set_linewidth(1.1)
    ax.set_xticks([0, 2, 4, 6])
    ax.set_yticks([0, 2, 4, 6, 8])
    ax.tick_params(length=1.5, width=0.5, color='#888888', labelcolor='#666666', labelsize=6, pad=1.5)
    ax.text(0.012, 0.985, lambda_text, transform=ax.transAxes, fontsize=6.5, color='#222222', ha='left', va='top')
    return ax


def label(x, y, s, **kw):
    fig.text(x / W, 1 - y / H, s, ha='center', va='center', **kw)


manhattan(74.5, 953, a_edges, a_ticks, a_tops, a_gaps, a_holes, a_runs, a_dots)
manhattan(1082.7, 1960, b_edges, b_ticks, b_tops, b_gaps, b_holes, b_runs, b_dots)
qq(654.3, 921.7, a_qq_line_x, a_qq_line_y, a_qq_open_x, a_qq_open_y)
qq(1687, 1953.7, b_qq_line_x, b_qq_line_y, b_qq_open_x, b_qq_open_y)

label(513, 1072.5, 'Chromosome', fontsize=10, color='#222222')
label(1521, 1072.5, 'Chromosome', fontsize=10, color='#222222')
label(17, 600, r'$-\log_{10}(\mathit{p})$', fontsize=11, rotation=90, color='#222222')
label(1025, 600, r'$-\log_{10}(\mathit{p})$', fontsize=11, rotation=90, color='#222222')

for x0 in [638.7, 1670]:
    label(x0, 130, r'Observed -log$_{10}$P', fontsize=6.2, rotation=90, color='#333333')
for x0 in [788, 1820]:
    label(x0, 280, r'Expected -log$_{10}$P', fontsize=6.2, color='#333333')

label(24, 44, 'A)', fontsize=34, fontweight='bold', color='black')
label(1097, 44, 'B)', fontsize=34, fontweight='bold', color='black')

fig.savefig('out.png', dpi=100)
